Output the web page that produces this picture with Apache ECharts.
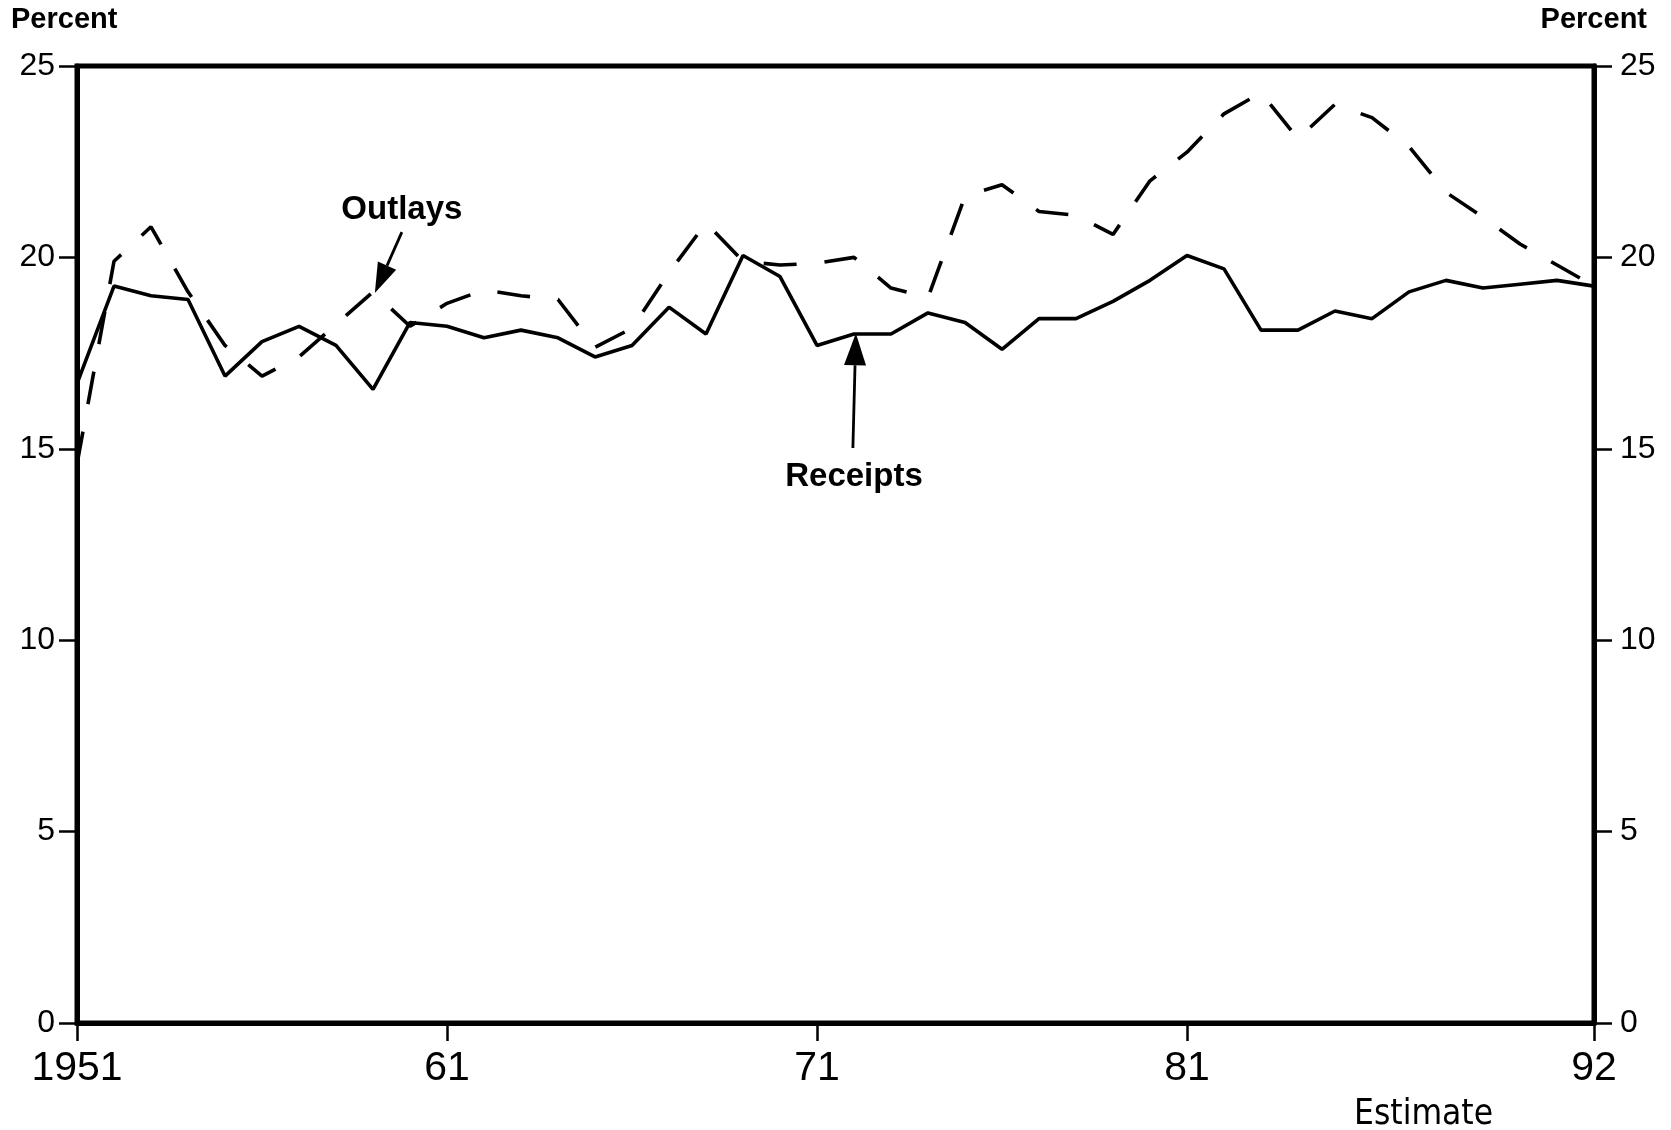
<!DOCTYPE html>
<html><head><meta charset="utf-8">
<script src="https://cdn.jsdelivr.net/npm/echarts@6/dist/echarts.min.js"></script>
<style>html,body{margin:0;padding:0;background:#fff}#c{width:1671px;height:1130px}</style>
</head><body><div id="c"></div>
<script>
const years = [1951,1952,1953,1954,1955,1956,1957,1958,1959,1960,
  1961,1962,1963,1964,1965,1966,1967,1968,1969,1970,
  1971,1972,1973,1974,1975,1976,1977,1978,1979,1980,
  1981,1982,1983,1984,1985,1986,1987,1988,1989,1990,1991,1992];
const receipts = [16.7,19.25,19.0,18.9,16.9,17.8,18.2,17.7,16.55,18.3,
  18.2,17.9,18.1,17.9,17.4,17.7,18.7,18.0,20.05,19.5,
  17.7,18.0,18.0,18.55,18.3,17.6,18.4,18.4,18.85,19.4,
  20.05,19.7,18.1,18.1,18.6,18.4,19.1,19.4,19.2,19.3,19.4,19.25];
const outlays = [14.6,19.9,20.8,19.1,17.7,16.9,17.4,18.25,19.1,18.2,
  18.8,19.15,19.0,18.9,17.65,18.15,19.6,20.9,19.9,19.8,
  19.85,20.0,19.2,18.95,21.6,21.9,21.2,21.1,20.6,22.0,
  22.75,23.75,24.3,23.1,24.0,23.65,22.9,21.7,21.05,20.35,19.8,19.25];
const xTickValues = [1951,1961,1971,1981,1992];
const xTickLabels = ['1951','61','71','81','92'];
const yMin = 0, yMax = 25, yStep = 5;

// annotation anchors in data space [year, percent]
const outlaysArrow = [[1959.78,20.66],[1959.05,19.07]];
const receiptsArrow = [[1971.97,15.02],[1972.05,18.02]];
const outlaysLabelAt = [1959.78,21.24];
const receiptsLabelAt = [1972.0,14.26];

const pairs = (xs, ys) => xs.map((x,i)=>[x, ys[i]]);
const labelMap = {};
xTickValues.forEach((v,i)=>labelMap[v]=xTickLabels[i]);

const chart = echarts.init(document.getElementById('c'), null, {renderer:'canvas'});
const yAxisBase = (pos, margin) => ({
  type:'value', position:pos, min:yMin, max:yMax, interval:yStep,
  axisLine:{show:true, lineStyle:{color:'#000', width:5}},
  axisTick:{show:true, inside:false, length:18, lineStyle:{color:'#000', width:2.5}},
  axisLabel:{show:true, margin:margin, color:'#000', fontSize:32, fontFamily:'Liberation Sans, Arial, sans-serif'},
  splitLine:{show:false}
});
const option = {
  animation:false,
  backgroundColor:'#fff',
  grid:{left:77, right:77, top:66, bottom:107, show:true, borderColor:'#000', borderWidth:5, containLabel:false},
  xAxis:{
    type:'value', min:1951, max:1992,
    axisLine:{show:true, onZero:false, lineStyle:{color:'#000', width:5}},
    axisTick:{show:true, customValues:xTickValues, length:18, lineStyle:{color:'#000', width:2.5}},
    axisLabel:{show:true, customValues:xTickValues, formatter:v=>labelMap[v]||'', margin:25, color:'#000',
      fontSize:41, fontFamily:'Liberation Sans, Arial, sans-serif'},
    splitLine:{show:false}
  },
  yAxis:[yAxisBase('left',22), yAxisBase('right',26)],
  series:[
    {name:'Receipts', type:'line', data:pairs(years, receipts), showSymbol:false, symbol:'none',
      lineStyle:{color:'#000', width:3.6, type:'solid'}, z:3},
    {name:'Outlays', type:'line', data:pairs(years, outlays), showSymbol:false, symbol:'none',
      lineStyle:{color:'#000', width:3.6, type:[33,28]}, z:3}
  ]
};
chart.setOption(option);

function px(p){ return chart.convertToPixel({gridIndex:0}, p); }
function arrow(a, headLen, headW){
  const s = px(a[0]), t = px(a[1]);
  const dx = t[0]-s[0], dy = t[1]-s[1], L = Math.hypot(dx,dy);
  const ux = dx/L, uy = dy/L;
  const bx = t[0]-ux*headLen, by = t[1]-uy*headLen;
  const nx = -uy*headW/2, ny = ux*headW/2;
  return [
    {type:'line', shape:{x1:s[0], y1:s[1], x2:bx, y2:by}, style:{stroke:'#000', lineWidth:2.8}, z:10},
    {type:'polygon', shape:{points:[[t[0],t[1]],[bx+nx,by+ny],[bx-nx,by-ny]]}, style:{fill:'#000'}, z:10}
  ];
}
const oL = px(outlaysLabelAt), rL = px(receiptsLabelAt);
const annFont = 'bold 33px Liberation Sans, Arial, sans-serif';
chart.setOption({graphic:[
  ...arrow(outlaysArrow, 30, 20),
  ...arrow(receiptsArrow, 32, 22),
  {type:'text', x:oL[0], y:oL[1], style:{text:'Outlays', font:annFont, fill:'#000', align:'center', verticalAlign:'middle'}, z:10},
  {type:'text', x:rL[0], y:rL[1], style:{text:'Receipts', font:annFont, fill:'#000', align:'center', verticalAlign:'middle'}, z:10},
  {type:'text', left:11, top:5, style:{text:'Percent', font:'bold 29px Liberation Sans, Arial, sans-serif', fill:'#000'}},
  {type:'text', right:24, top:5, style:{text:'Percent', font:'bold 29px Liberation Sans, Arial, sans-serif', fill:'#000'}},
  {type:'text', left:1354, top:1097, style:{text:'Estimate', font:'35px DejaVu Sans Condensed, Liberation Sans, sans-serif', fill:'#000'}}
]});
</script>
</body></html>
